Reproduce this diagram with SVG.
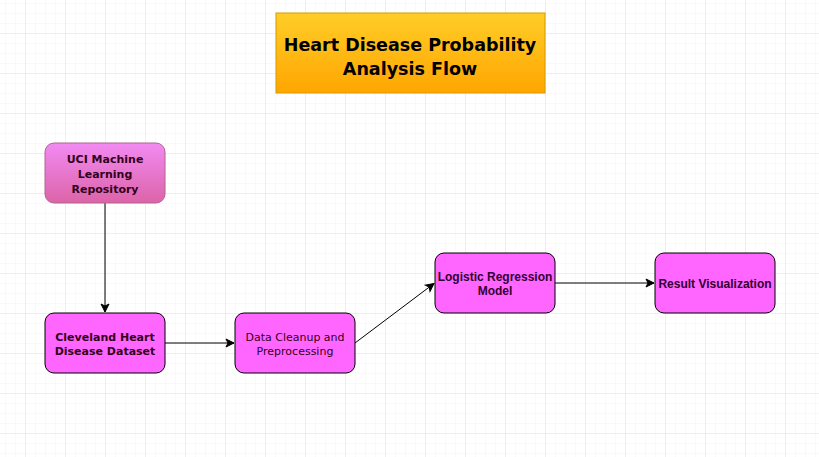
<svg xmlns="http://www.w3.org/2000/svg" width="819" height="457" viewBox="0 0 819 457">
<defs>
<pattern id="minor" width="10" height="10" patternUnits="userSpaceOnUse" x="5" y="3">
<path d="M0 0H10M0 0V10" fill="none" stroke="#f3f3f3" stroke-width="1"/>
</pattern>
<pattern id="major" width="40" height="40" patternUnits="userSpaceOnUse" x="25" y="33">
<path d="M0 0H40M0 0V40" fill="none" stroke="#e4e4e4" stroke-width="1"/>
</pattern>
<linearGradient id="gOrange" x1="0" y1="0" x2="0" y2="1">
<stop offset="0" stop-color="#ffcd28"/>
<stop offset="1" stop-color="#ffa500"/>
</linearGradient>
<linearGradient id="gPink" x1="0" y1="0" x2="0" y2="1">
<stop offset="0" stop-color="#f28af2"/>
<stop offset="1" stop-color="#dc64a8"/>
</linearGradient>
<marker id="arr" markerWidth="10" markerHeight="10" refX="9" refY="5" orient="auto" markerUnits="userSpaceOnUse">
<path d="M1 1 L9 5 L1 9 L3 5 Z" fill="#000" stroke="#000" stroke-width="1"/>
</marker>
<style>
.node{fill:#ff66ff;stroke:#000;stroke-width:1}
.t{font-weight:bold;text-anchor:middle;fill:#33001a;font-size:12px}
.v{font-family:"DejaVu Sans",Verdana,sans-serif;font-size:11px}
.a{font-family:"Liberation Sans",Arial,sans-serif;font-size:12px;fill:#330033}
.edge{fill:none;stroke:#000;stroke-width:1;marker-end:url(#arr)}
.title{text-anchor:middle;font-family:'Comic Sans MS','DejaVu Sans',sans-serif;font-weight:bold;font-size:17.5px;fill:#000}
</style>
</defs>
<rect width="819" height="457" fill="#fff"/>
<rect width="819" height="457" fill="url(#minor)"/>
<rect width="819" height="457" fill="url(#major)"/>

<g id="connectors">
<path class="edge" d="M105 203 V312"/>
<path class="edge" d="M165 343 H234"/>
<path class="edge" d="M355 343 L434 283.5"/>
<path class="edge" d="M555 283 H654"/>
</g>

<g id="title">
<rect x="276" y="13" width="269" height="80" fill="url(#gOrange)" stroke="#d79b00" stroke-width="1"/>
<text class="title" x="410" y="51">Heart Disease Probability</text>
<text class="title" x="410" y="75">Analysis Flow</text>
</g>

<g id="uci">
<rect x="45" y="143" width="120" height="60" rx="9" fill="url(#gPink)" stroke="#b0658f"/>
<text class="t v" x="105" y="163">UCI Machine</text>
<text class="t v" x="105" y="178">Learning</text>
<text class="t v" x="105" y="193">Repository</text>
</g>

<g id="cleveland">
<rect class="node" x="45" y="313" width="120" height="60" rx="9"/>
<text class="t v" x="105" y="341">Cleveland Heart</text>
<text class="t v" x="105" y="355">Disease Dataset</text>
</g>

<g id="cleanup">
<rect class="node" x="235" y="313" width="120" height="60" rx="9"/>
<text class="v" x="295" y="341" text-anchor="middle" fill="#33001a">Data Cleanup and</text>
<text class="v" x="295" y="355" text-anchor="middle" fill="#33001a">Preprocessing</text>
</g>

<g id="logistic">
<rect class="node" x="435" y="253" width="120" height="60" rx="9"/>
<text class="t a" x="495" y="281">Logistic Regression</text>
<text class="t a" x="495" y="295">Model</text>
</g>

<g id="result">
<rect class="node" x="655" y="253" width="120" height="60" rx="9"/>
<text class="t a" x="715" y="288">Result Visualization</text>
</g>
</svg>
